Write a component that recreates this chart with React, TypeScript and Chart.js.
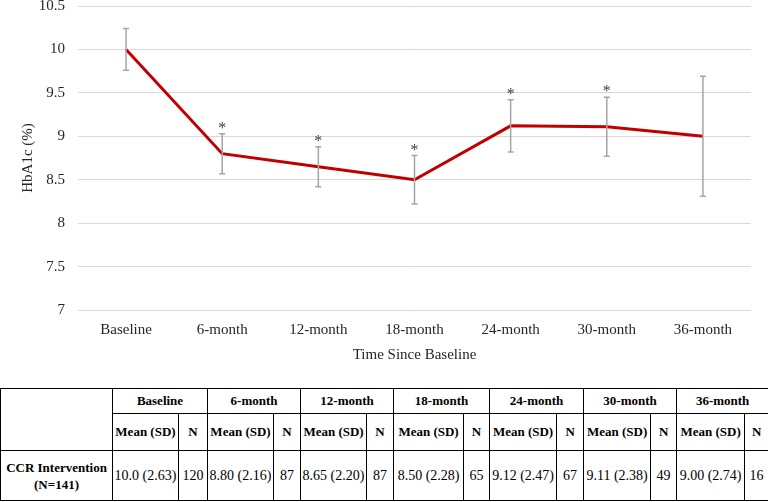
import React, { useEffect, useRef } from "react";
import { Chart, registerables } from "chart.js";

Chart.register(...registerables);

const categories = ["Baseline", "6-month", "12-month", "18-month", "24-month", "30-month", "36-month"];
const meanValues = [10.0, 8.8, 8.65, 8.5, 9.12, 9.11, 9.0];
const lowerBounds = [9.76, 8.57, 8.42, 8.22, 8.82, 8.77, 8.31];
const upperBounds = [10.24, 9.03, 8.88, 8.78, 9.42, 9.45, 9.69];
const significant = [false, true, true, true, true, true, false];
const sdLabels = ["10.0 (2.63)", "8.80 (2.16)", "8.65 (2.20)", "8.50 (2.28)", "9.12 (2.47)", "9.11 (2.38)", "9.00 (2.74)"];
const nValues = [120, 87, 87, 65, 67, 49, 16];
const rowLabel = ["CCR Intervention", "(N=141)"];

const FONT = "'Liberation Serif', 'Times New Roman', serif";

const errorBarPlugin = {
  id: "errorBars",
  afterDatasetsDraw(chart: any) {
    const ctx = chart.ctx;
    const xs = chart.scales.x;
    const ys = chart.scales.y;
    ctx.save();
    ctx.strokeStyle = "#a5a5a5";
    ctx.lineWidth = 1.5;
    categories.forEach((_, i) => {
      const x = xs.getPixelForValue(i);
      const yl = ys.getPixelForValue(lowerBounds[i]);
      const yu = ys.getPixelForValue(upperBounds[i]);
      ctx.beginPath();
      ctx.moveTo(x, yl);
      ctx.lineTo(x, yu);
      ctx.moveTo(x - 3, yl);
      ctx.lineTo(x + 3, yl);
      ctx.moveTo(x - 3, yu);
      ctx.lineTo(x + 3, yu);
      ctx.stroke();
      if (significant[i]) {
        ctx.fillStyle = "#404040";
        ctx.font = `16px ${FONT}`;
        ctx.textAlign = "center";
        ctx.textBaseline = "middle";
        ctx.fillText("*", x, yu - 5);
      }
    });
    ctx.restore();
  },
};

function LineChart() {
  const ref = useRef<HTMLCanvasElement | null>(null);
  useEffect(() => {
    if (!ref.current) return;
    const chart = new Chart(ref.current, {
      type: "line",
      data: {
        labels: categories,
        datasets: [
          {
            data: meanValues,
            borderColor: "#c00000",
            borderWidth: 3,
            pointRadius: 0,
            tension: 0,
            fill: false,
          },
        ],
      },
      options: {
        animation: false,
        responsive: false,
        events: [],
        layout: { padding: { top: 6, right: 17, left: 0, bottom: 0 } },
        plugins: { legend: { display: false }, tooltip: { enabled: false } },
        scales: {
          x: {
            offset: true,
            grid: { display: false },
            border: { display: false },
            ticks: { color: "#262626", font: { family: FONT, size: 15 }, padding: 3, maxRotation: 0 },
            title: {
              display: true,
              text: "Time Since Baseline",
              color: "#262626",
              font: { family: FONT, size: 15 },
              padding: { top: 0, bottom: 11 },
            },
            afterFit(scale: any) {
              scale.height = 65;
              scale.paddingLeft = 0;
              scale.paddingRight = 0;
            },
          },
          y: {
            min: 7,
            max: 10.5,
            ticks: {
              stepSize: 0.5,
              color: "#262626",
              font: { family: FONT, size: 15 },
              padding: 13,
              callback: (v: any) => String(Number(v)),
            },
            grid: { color: "#d9d9d9", lineWidth: 1, drawTicks: false },
            border: { display: false },
            title: {
              display: true,
              text: "HbA1c (%)",
              color: "#262626",
              font: { family: FONT, size: 15 },
              padding: { top: 19, bottom: 0 },
            },
            afterFit(scale: any) {
              scale.width = 78;
              scale.paddingTop = 0;
              scale.paddingBottom = 0;
            },
          },
        },
      },
      plugins: [errorBarPlugin],
    });
    return () => chart.destroy();
  }, []);
  return <canvas ref={ref} width={768} height={375} style={{ display: "block" }} />;
}

const cell: React.CSSProperties = {
  border: "1px solid #000",
  padding: 0,
  textAlign: "center",
  verticalAlign: "middle",
};

export default function App() {
  const groupWidths = [95, 93, 93, 96, 94, 93, 92];
  const meanWidths = [66, 66, 66, 70, 67, 67, 68];
  return (
    <div style={{ position: "absolute", left: 0, top: 0, width: 768, height: 502, background: "#fff", fontFamily: FONT }}>
      <LineChart />
      <table
        style={{
          position: "absolute",
          left: 0,
          top: 388,
          width: 767,
          borderCollapse: "collapse",
          tableLayout: "fixed",
          fontFamily: FONT,
          color: "#000",
        }}
      >
        <colgroup>
          <col style={{ width: 112 }} />
          {groupWidths.map((w, i) => (
            <React.Fragment key={i}>
              <col style={{ width: meanWidths[i] }} />
              <col style={{ width: w - meanWidths[i] }} />
            </React.Fragment>
          ))}
        </colgroup>
        <tbody>
          <tr style={{ height: 25 }}>
            <td rowSpan={2} style={cell}></td>
            {categories.map((c) => (
              <td key={c} colSpan={2} style={{ ...cell, fontWeight: "bold", fontSize: 13 }}>
                {c}
              </td>
            ))}
          </tr>
          <tr style={{ height: 37 }}>
            {categories.map((c) => (
              <React.Fragment key={c}>
                <td style={{ ...cell, fontWeight: "bold", fontSize: 13 }}>Mean (SD)</td>
                <td style={{ ...cell, fontWeight: "bold", fontSize: 13 }}>N</td>
              </React.Fragment>
            ))}
          </tr>
          <tr style={{ height: 50 }}>
            <td style={{ ...cell, fontWeight: "bold", fontSize: 13, lineHeight: "17px" }}>
              {rowLabel[0]}
              <br />
              {rowLabel[1]}
            </td>
            {categories.map((c, i) => (
              <React.Fragment key={c}>
                <td style={{ ...cell, fontSize: 14 }}>{sdLabels[i]}</td>
                <td style={{ ...cell, fontSize: 14 }}>{nValues[i]}</td>
              </React.Fragment>
            ))}
          </tr>
        </tbody>
      </table>
    </div>
  );
}
